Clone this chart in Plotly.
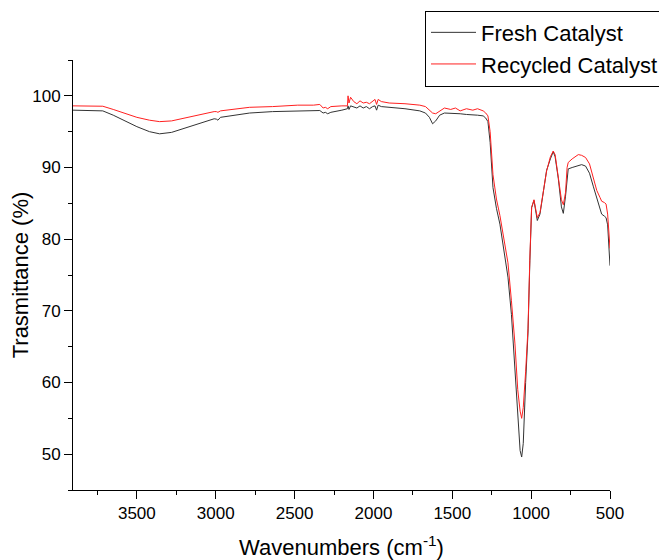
import plotly.graph_objects as go

wavenumber = [3905, 3800, 3716, 3650, 3580, 3500, 3420, 3356, 3280, 3180, 3080, 3010,
              2996, 2986, 2970, 2880, 2785, 2640, 2480, 2380, 2340, 2319, 2305, 2290,
              2270, 2200, 2175, 2165, 2161, 2155, 2145, 2125, 2105, 2085, 2065, 2045,
              2025, 2005, 1990, 1980, 1970, 1950, 1900, 1800, 1706, 1670, 1645, 1625,
              1605, 1580, 1550, 1510, 1480, 1450, 1410, 1370, 1340, 1304, 1288, 1274,
              1260, 1242, 1220, 1198, 1170, 1147, 1125, 1103, 1085, 1070, 1060, 1050,
              1035, 1020, 1008, 997, 982, 972, 961, 944, 924, 902, 878, 860, 848, 828,
              808, 796, 782, 772, 765, 740, 701, 680, 655, 630, 605, 584, 563, 553,
              535, 525, 515, 500]

fresh = [98.0, 98.0, 97.9, 97.3, 96.5, 95.7, 95.0, 94.7, 94.9, 95.6, 96.3, 96.8,
         96.75, 96.6, 97.0, 97.3, 97.6, 97.8, 97.9, 98.0, 97.95, 97.6, 97.7, 97.5,
         97.7, 98.0, 98.1, 98.2, 98.6, 98.1, 98.6, 98.4, 98.3, 98.6, 98.3, 98.5,
         98.2, 98.5, 98.6, 98.0, 98.7, 98.5, 98.4, 98.2, 97.9, 97.6, 97.0, 96.1,
         96.5, 97.3, 97.6, 97.6, 97.5, 97.5, 97.4, 97.4, 97.3, 97.2, 96.9, 96.4,
         93.5, 87.2, 84.3, 82.1, 78.3, 74.7, 69.5, 62.1, 55.0, 50.5, 49.6, 51.5,
         60.0, 66.9, 77.0, 84.4, 85.4, 84.0, 82.6, 83.5, 86.5, 89.6, 91.2, 92.2,
         91.5, 88.5, 84.5, 83.6, 86.0, 89.0, 89.8, 90.0, 90.2, 90.4, 90.2, 89.2,
         87.3, 85.8, 84.2, 83.5, 83.2, 83.0, 82.0, 76.3]

recycled = [98.6, 98.6, 98.55, 98.1, 97.6, 97.0, 96.6, 96.4, 96.5, 97.0, 97.5, 97.8,
            97.8, 97.7, 97.9, 98.1, 98.4, 98.5, 98.7, 98.7, 98.8, 98.3, 98.4, 98.2,
            98.5, 98.6, 98.6, 98.6, 100.0, 99.0, 99.8, 99.2, 98.9, 99.3, 99.0, 99.1,
            98.9, 99.3, 99.5, 98.8, 99.5, 99.2, 99.0, 98.9, 98.7, 98.5, 98.0, 97.6,
            97.5, 97.9, 98.3, 98.1, 98.3, 97.9, 98.2, 98.0, 98.2, 97.9, 97.6, 97.2,
            95.0, 89.0, 85.6, 83.3, 79.8, 76.7, 71.4, 65.5, 59.0, 56.0, 55.0, 56.5,
            61.5, 67.5, 77.5, 84.4, 85.5, 84.5, 83.0, 83.7, 86.5, 89.5, 91.5, 92.3,
            91.8, 88.5, 85.5, 84.8, 86.5, 90.0, 90.7, 91.2, 91.8, 91.7, 91.4, 90.5,
            88.5, 86.8, 85.8, 85.3, 85.1, 84.9, 83.5, 78.7]

series_names = ["Fresh Catalyst", "Recycled Catalyst"]
x_ticks = [3500, 3000, 2500, 2000, 1500, 1000, 500]
y_ticks = [50, 60, 70, 80, 90, 100]

FONT = "Arial, 'Liberation Sans', sans-serif"

fig = go.Figure()
fig.add_trace(go.Scatter(x=wavenumber, y=fresh, mode="lines", name=series_names[0],
                         line=dict(color="#333333", width=1)))
fig.add_trace(go.Scatter(x=wavenumber, y=recycled, mode="lines", name=series_names[1],
                         line=dict(color="#ff2020", width=1)))

axis_common = dict(showline=True, linecolor="black", linewidth=1, showgrid=False,
                   zeroline=False, ticks="outside", ticklen=8, tickwidth=1,
                   tickcolor="black", tickfont=dict(family=FONT, size=17, color="black"),
                   mirror=False)

fig.update_xaxes(range=[3905, 500], tickvals=x_ticks,
                 minor=dict(ticks="outside", ticklen=4, tickwidth=1, tickcolor="black", dtick=250, tick0=500),
                 title=dict(text="Wavenumbers (cm<sup>-1</sup>)", font=dict(family=FONT, size=22, color="black"), standoff=17),
                 **axis_common)
fig.update_yaxes(range=[45, 105], tickvals=y_ticks,
                 minor=dict(ticks="outside", ticklen=4, tickwidth=1, tickcolor="black", dtick=5, tick0=45),
                 title=dict(text="Trasmittance (%)", font=dict(family=FONT, size=22, color="black"), standoff=1),
                 **axis_common)

fig.update_layout(
    width=659, height=552,
    margin=dict(l=65, r=57, t=52, b=70, autoexpand=False),
    plot_bgcolor="white", paper_bgcolor="white",
    font=dict(family=FONT, color="black"),
    showlegend=True,
    legend=dict(x=0.6555, y=1.115, xanchor="left", yanchor="top",
                bordercolor="black", borderwidth=1, bgcolor="white",
                font=dict(family=FONT, size=22), itemwidth=45,
                tracegroupgap=0),
)

fig.write_html("out.html")
